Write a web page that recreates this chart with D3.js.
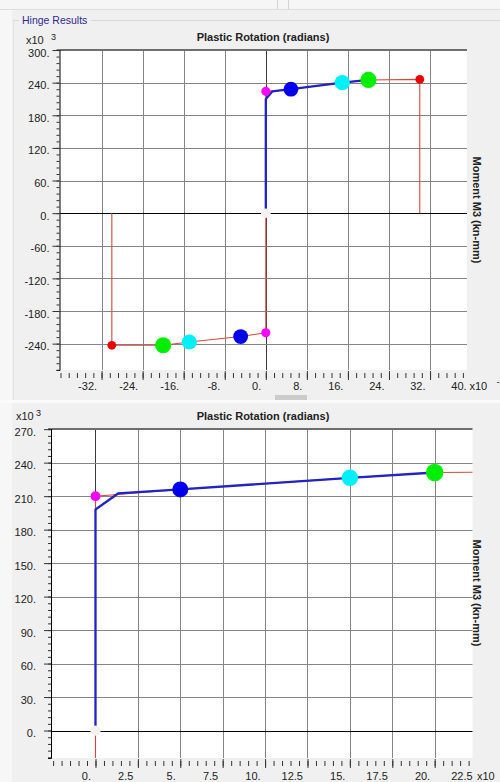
<!DOCTYPE html>
<html>
<head>
<meta charset="utf-8">
<script src="https://cdn.jsdelivr.net/npm/d3@7"></script>
<style>
  body { margin: 0; background: #f0f0f0; font-family: "Liberation Sans", Arial, sans-serif; }
  svg { display: block; }
</style>
</head>
<body>
<svg id="chart" width="500" height="782"></svg>
<script>
// ---- data (rotation x10^-3 rad, moment x10^3 kN-mm) ----
const topXTicks = [-32, -24, -16, -8, 0, 8, 16, 24, 32, 40];
const topXLabels = ["-32.", "-24.", "-16.", "-8.", "0.", "8.", "16.", "24.", "32.", "40."];
const topYTicks = [300, 240, 180, 120, 60, 0, -60, -120, -180, -240];
const topYLabels = ["300.", "240.", "180.", "120.", "60.", "0.", "-60.", "-120.", "-180.", "-240."];

const topBackboneRot = [-30, -30, -20, -14.9, -4.9, 0, 0, 0, 4.9, 14.9, 20, 30, 30];
const topBackboneMom = [0, -243, -243, -237, -227, -220, 0, 224, 228, 240, 245, 246, 0];
const topResponseRot = [0, 0, 1.3, 4.9, 14.9, 20];
const topResponseMom = [0, 210, 224, 228, 240, 245];
const topPointRot = [0, 0, 4.9, 14.9, 20, 30, 0, -4.9, -14.9, -20, -30];
const topPointMom = [0, 224, 228, 240, 245, 246, -220, -227, -237, -243, -243];
const topPointState = ["A", "B", "IO", "LS", "CP", "C", "B", "IO", "LS", "CP", "C"];

const botXTicks = [0, 2.5, 5, 7.5, 10, 12.5, 15, 17.5, 20, 22.5];
const botXLabels = ["0.", "2.5", "5.", "7.5", "10.", "12.5", "15.", "17.5", "20.", "22.5"];
const botYTicks = [270, 240, 210, 180, 150, 120, 90, 60, 30, 0];
const botYLabels = ["270.", "240.", "210.", "180.", "150.", "120.", "90.", "60.", "30.", "0."];

const botBackboneRot = [0, 0, 0, 5, 15, 20, 30, 30];
const botBackboneMom = [-220, 0, 210, 216, 226.4, 231.2, 232, 0];
const botResponseRot = [0, 0, 1.33, 5, 15, 20];
const botResponseMom = [0, 198, 212.4, 216, 226.4, 231.2];
const botPointRot = [0, 0, 5, 15, 20];
const botPointMom = [0, 210, 216, 226.4, 231.2];
const botPointState = ["A", "B", "IO", "LS", "CP"];

// ---- styles ----
const stateColor = { A: "#f6f1f1", B: "#ff00ff", IO: "#0000ee", LS: "#00f0f8", CP: "#00ee00", C: "#ee0000" };
const stateRadius = { A: 5, B: 4.8, IO: 7.8, LS: 8, CP: 8.5, C: 4.6 };
const gridColor = "#858585";

const svg = d3.select("#chart");

// window chrome
svg.append("rect").attr("width", 500).attr("height", 782).attr("fill", "#f0f0f0");
svg.append("rect").attr("width", 12).attr("height", 782).attr("fill", "#f7f7f7");
svg.append("rect").attr("width", 500).attr("height", 9).attr("fill", "#f6f6f6");
svg.append("line").attr("x1", 0).attr("x2", 500).attr("y1", 9.5).attr("y2", 9.5).attr("stroke", "#dedede");
[277.5, 288.5].forEach((x) => {
  svg.append("line").attr("x1", x).attr("x2", x).attr("y1", 0).attr("y2", 9).attr("stroke", "#d4d4d4");
});
svg.append("line").attr("x1", 13).attr("x2", 19).attr("y1", 20.5).attr("y2", 20.5).attr("stroke", "#d8d8d8");
svg.append("line").attr("x1", 91).attr("x2", 500).attr("y1", 20.5).attr("y2", 20.5).attr("stroke", "#d8d8d8");
svg.append("line").attr("x1", 13.5).attr("x2", 13.5).attr("y1", 20).attr("y2", 400).attr("stroke", "#e2e2e2");
svg.append("text").attr("x", 22).attr("y", 24).attr("font-size", "10.5px").attr("fill", "#2b2b8f").text("Hinge Results");
svg.append("rect").attr("x", 0).attr("y", 400).attr("width", 500).attr("height", 3).attr("fill", "#fbfbfb");
// scrollbar thumb under the top chart
svg.append("rect").attr("x", 275).attr("y", 395).attr("width", 32).attr("height", 5).attr("fill", "#cbcbcb");

/*
 * Draws one hinge plot panel
 */
const drawChart = (cfg) => {
  const x = d3.scaleLinear().domain(cfg.xDomain).range([cfg.left, cfg.right]);
  const y = d3.scaleLinear().domain(cfg.yDomain).range([cfg.bottom, cfg.top]);
  const g = svg.append("g");

  g.append("clipPath").attr("id", cfg.id + "-clip")
    .append("rect")
    .attr("x", cfg.left).attr("y", cfg.top)
    .attr("width", cfg.right - cfg.left).attr("height", cfg.bottom - cfg.top);

  g.append("rect")
    .attr("x", cfg.left).attr("y", cfg.top)
    .attr("width", cfg.right - cfg.left).attr("height", cfg.bottom - cfg.top)
    .attr("fill", "#fff");

  // grid
  g.selectAll(".vgrid")
    .data(cfg.xTicks.filter((d) => x(d) < cfg.right - 1))
    .enter().append("line")
    .attr("x1", (d) => Math.round(x(d)) + 0.5).attr("x2", (d) => Math.round(x(d)) + 0.5)
    .attr("y1", cfg.top).attr("y2", cfg.bottom)
    .attr("stroke", (d) => (d === 0 ? "#3a3a3a" : gridColor));
  g.selectAll(".hgrid")
    .data(cfg.yTicks.filter((d) => y(d) > cfg.top + 1))
    .enter().append("line")
    .attr("y1", (d) => Math.round(y(d)) + 0.5).attr("y2", (d) => Math.round(y(d)) + 0.5)
    .attr("x1", cfg.left).attr("x2", cfg.right)
    .attr("stroke", (d) => (d === 0 ? "#000" : gridColor));

  // top border
  g.append("line")
    .attr("x1", cfg.left).attr("x2", cfg.right)
    .attr("y1", cfg.top + 0.5).attr("y2", cfg.top + 0.5)
    .attr("stroke", "#6e6e6e").attr("stroke-width", 2);

  // y axis
  const yMinor = d3.range(Math.ceil(cfg.yDomain[0] / cfg.yMinorStep), Math.floor(cfg.yDomain[1] / cfg.yMinorStep) + 1)
    .map((k) => k * cfg.yMinorStep);
  g.append("g")
    .attr("transform", "translate(" + (cfg.left - 0.5) + ",0)")
    .call(d3.axisLeft(y).tickValues(yMinor).tickSize(3).tickFormat(""))
    .call((a) => a.select(".domain").attr("stroke", "#000"))
    .call((a) => a.selectAll("line").attr("stroke", "#333"));
  g.append("g")
    .attr("transform", "translate(" + (cfg.left - 0.5) + ",0)")
    .call(d3.axisLeft(y).tickValues(cfg.yTicks).tickSize(7).tickPadding(cfg.yPad)
      .tickFormat((d, i) => cfg.yLabels[i]))
    .call((a) => a.select(".domain").remove())
    .call((a) => a.selectAll("line").attr("stroke", "#333"))
    .call((a) => a.selectAll("text")
      .attr("font-family", "Liberation Sans, Arial, sans-serif")
      .attr("font-size", "11px").attr("fill", "#222")
      .attr("y", 2.5));

  // x axis
  const xMinor = d3.range(Math.ceil(cfg.xDomain[0] / cfg.xMinorStep), Math.floor(cfg.xDomain[1] / cfg.xMinorStep) + 1)
    .map((k) => k * cfg.xMinorStep);
  g.append("g")
    .attr("transform", "translate(0," + (cfg.bottom + 3) + ")")
    .call(d3.axisBottom(x).tickValues(xMinor).tickSize(5).tickFormat(""))
    .call((a) => a.select(".domain").remove())
    .call((a) => a.selectAll("line").attr("stroke", "#333"));
  g.append("g")
    .attr("transform", "translate(0," + (cfg.bottom + 1) + ")")
    .call(d3.axisBottom(x).tickValues(cfg.xTicks).tickSize(9).tickFormat((d, i) => cfg.xLabels[i]))
    .call((a) => a.select(".domain").remove())
    .call((a) => a.selectAll("line").attr("stroke", (d) => (x(d) > cfg.right ? "none" : "#333")))
    .call((a) => a.selectAll("text")
      .attr("font-family", "Liberation Sans, Arial, sans-serif")
      .attr("font-size", "11px").attr("fill", "#222")
      .attr("text-anchor", "end")
      .attr("x", -5)
      .attr("dy", 0)
      .attr("y", cfg.labelDrop));

  g.append("text")
    .attr("x", cfg.xExpX).attr("y", cfg.bottom + 1 + cfg.labelDrop)
    .attr("font-size", "11px").attr("fill", "#222").text("x10");
  if (cfg.xExpSup) {
    g.append("text")
      .attr("x", cfg.xExpX + 27).attr("y", cfg.bottom + 1 + cfg.labelDrop - 5)
      .attr("font-size", "9px").attr("fill", "#222").text(cfg.xExpSup);
  }

  // curves
  const line = d3.line().x((d) => x(d[0])).y((d) => y(d[1]));
  const curves = g.append("g").attr("clip-path", "url(#" + cfg.id + "-clip)");
  curves.append("path")
    .attr("d", line(d3.zip(cfg.backboneRot, cfg.backboneMom)))
    .attr("fill", "none").attr("stroke", "#d8453f").attr("stroke-width", 1.1);
  curves.append("path")
    .attr("d", line(d3.zip(cfg.responseRot, cfg.responseMom)))
    .attr("fill", "none").attr("stroke", "#2323c4").attr("stroke-width", 2.3)
    .attr("stroke-linejoin", "round");

  g.selectAll(".pt")
    .data(d3.zip(cfg.pointRot, cfg.pointMom, cfg.pointState))
    .enter().append("circle")
    .attr("cx", (d) => x(d[0]))
    .attr("cy", (d) => y(d[1]))
    .attr("r", (d) => stateRadius[d[2]] * cfg.dotScale)
    .attr("fill", (d) => stateColor[d[2]]);

  // titles
  g.append("text")
    .attr("x", 263).attr("y", cfg.top - 9)
    .attr("text-anchor", "middle").attr("font-size", "11px").attr("font-weight", "bold")
    .attr("fill", "#222").text("Plastic Rotation  (radians)");
  g.append("text")
    .attr("x", cfg.expX).attr("y", cfg.expY)
    .attr("font-size", "11px").attr("fill", "#222").text("x10");
  g.append("text")
    .attr("x", cfg.supX).attr("y", cfg.expY - 4)
    .attr("font-size", "9px").attr("fill", "#222").text("3");
  g.append("text")
    .attr("transform", "translate(473," + cfg.sideY + ") rotate(90)")
    .attr("text-anchor", "middle").attr("font-size", "11px").attr("font-weight", "bold")
    .attr("fill", "#222").text("Moment M3  (kn-mm)");
};

drawChart({
  id: "top",
  left: 60, right: 467, top: 49.5, bottom: 370,
  xDomain: [-40.1, 39.2], yDomain: [-288.5, 301],
  xTicks: topXTicks, xLabels: topXLabels, xMinorStep: 1.6,
  yTicks: topYTicks, yLabels: topYLabels, yMinorStep: 12,
  yPad: 3, labelDrop: 19,
  xExpX: 469.5, xExpSup: "-3",
  backboneRot: topBackboneRot, backboneMom: topBackboneMom,
  responseRot: topResponseRot, responseMom: topResponseMom,
  pointRot: topPointRot, pointMom: topPointMom, pointState: topPointState,
  dotScale: 0.95,
  expX: 26, supX: 51, expY: 44, sideY: 210,
});

drawChart({
  id: "bot",
  left: 51.5, right: 472.5, top: 428.5, bottom: 758,
  xDomain: [-2.594, 22.23], yDomain: [-24.6, 270.6],
  xTicks: botXTicks, xLabels: botXLabels, xMinorStep: 0.5,
  yTicks: botYTicks, yLabels: botYLabels, yMinorStep: 6,
  yPad: 8, labelDrop: 21,
  xExpX: 477, xExpSup: null,
  backboneRot: botBackboneRot, backboneMom: botBackboneMom,
  responseRot: botResponseRot, responseMom: botResponseMom,
  pointRot: botPointRot, pointMom: botPointMom, pointState: botPointState,
  dotScale: 1.03,
  expX: 16, supX: 36, expY: 420, sideY: 593,
});
</script>
</body>
</html>
